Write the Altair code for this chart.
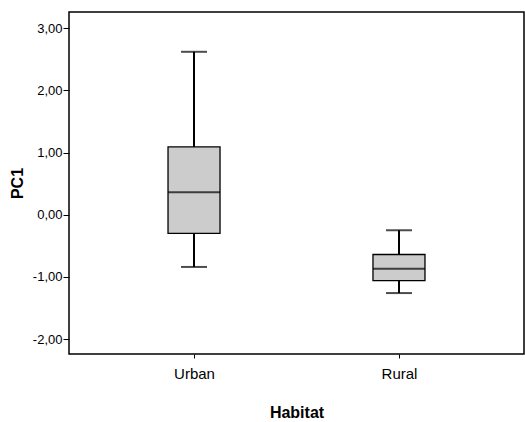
import altair as alt
import pandas as pd

# Box-plot summary of the first principal component by habitat
habitat = ["Urban", "Rural"]
whisker_low = [-0.84, -1.26]
q1 = [-0.30, -1.06]
median = [0.36, -0.87]
q3 = [1.09, -0.64]
whisker_high = [2.62, -0.25]

df = pd.DataFrame({
    "Habitat": habitat,
    "lo": whisker_low,
    "q1": q1,
    "med": median,
    "q3": q3,
    "hi": whisker_high,
})

FONT = "Liberation Sans"

x = alt.X(
    "Habitat:N",
    sort=habitat,
    scale=alt.Scale(type="point", padding=0.61),
    axis=alt.Axis(
        title="Habitat", labelAngle=0, labelFontSize=15, labelPadding=8,
        tickSize=4, tickColor="black", domain=False, labelColor="black",
        titleFontSize=16, titleFontWeight="bold", titlePadding=23,
        labelFont=FONT, titleFont=FONT, titleColor="black",
    ),
)
yscale = alt.Scale(domain=[-2.24, 3.26], nice=False, zero=False)
yaxis = alt.Axis(
    title="PC1", values=[-2, -1, 0, 1, 2, 3],
    labelExpr="replace(replace(format(datum.value, '.2f'), '.', ','), '\u2212', '-')",
    labelFontSize=13, labelPadding=1, tickSize=6, tickColor="black",
    domain=False, grid=False, labelColor="black",
    titleFontSize=16, titleFontWeight="bold", titlePadding=7,
    labelFont=FONT, titleFont=FONT, titleColor="black",
)

base = alt.Chart(df).encode(x=x)

whisker = base.mark_rule(color="black", strokeWidth=2).encode(
    y=alt.Y("lo:Q", scale=yscale, axis=yaxis), y2="hi:Q"
)
box = base.mark_bar(size=52, fill="#cccccc", stroke="black", strokeWidth=1.3).encode(
    y=alt.Y("q1:Q", scale=yscale), y2="q3:Q"
)
mid = base.mark_tick(size=52, thickness=2, color="black", orient="horizontal").encode(
    y=alt.Y("med:Q", scale=yscale)
)
cap_lo = base.mark_tick(size=26, thickness=2, color="black", orient="horizontal").encode(
    y=alt.Y("lo:Q", scale=yscale)
)
cap_hi = base.mark_tick(size=26, thickness=2, color="black", orient="horizontal").encode(
    y=alt.Y("hi:Q", scale=yscale)
)

chart = (
    alt.layer(whisker, box, mid, cap_lo, cap_hi)
    .properties(
        width=455, height=342,
        autosize=alt.AutoSizeParams(type="none"),
        padding={"left": 69, "top": 12, "right": 1, "bottom": 68},
        background="white",
    )
    .configure_view(stroke="black", strokeWidth=1.5)
)

chart.save("out.html", embed_options={"renderer": "svg", "actions": False})
